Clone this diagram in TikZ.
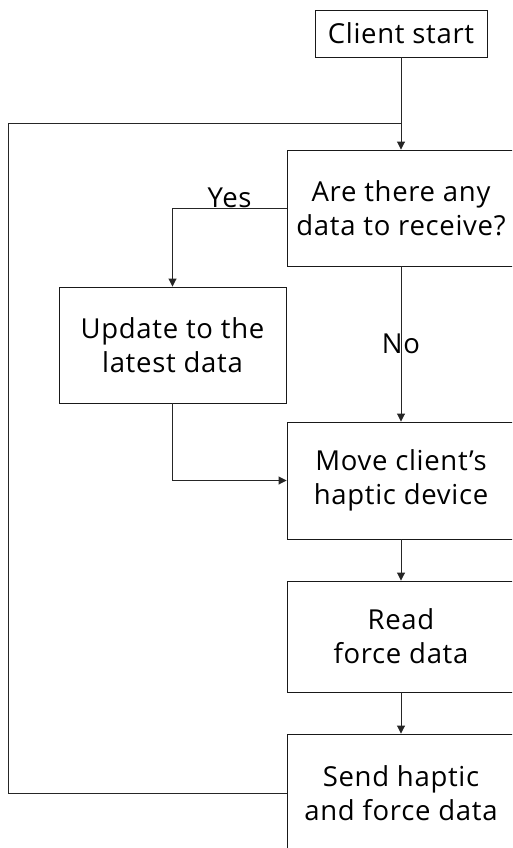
\documentclass[tikz,border=0pt]{standalone}
\usepackage{fontspec}
\setmainfont[LetterSpace=2.5]{Open Sans}
\usetikzlibrary{arrows.meta}
\begin{document}
\begin{tikzpicture}[x=1pt,y=-1pt,
  box/.style={draw=black!90, line width=0.9pt, align=center, inner sep=0pt,
    minimum width=228pt, font=\fontsize{27.5}{34}\selectfont},
  wire/.style={draw=black!85, line width=0.9pt},
  link/.style={wire, -{Triangle[length=8pt,width=8pt]}},
  lbl/.style={font=\fontsize{27.5}{30}\selectfont, inner sep=1pt}]
\useasboundingbox (0,0) rectangle (512,848);
\clip (0,0) rectangle (512,848);

% process steps
\node[box, minimum width=172pt, minimum height=47pt] (start) at (401,33.5) {Client start};
\node[box, minimum height=116pt] (ask) at (401,208) {Are there any\\data to receive?};
\node[box, minimum width=227pt, minimum height=116pt] (upd) at (172.5,345) {Update to the\\latest data};
\node[box, minimum height=117pt] (move) at (401,480.5) {Move client’s\\haptic device};
\node[box, minimum height=111pt] (read) at (401,636.5) {Read\\force data};
\node[box, minimum height=118pt] (send) at (401,793) {Send haptic\\and force data};

% junction of the start line and the loop back
\coordinate (merge) at (401,123);
\coordinate (corner) at (8,793);

\draw[wire] (start) -- (merge);
\draw[link] (merge) -- (ask);
\draw[link] (ask.west) -| node[lbl, pos=0.25, above, inner sep=0pt] {Yes} (upd.north);
\draw[link] (ask) -- node[lbl] {No} (move);
\draw[link] (upd.south) |- (move.west);
\draw[link] (move) -- (read);
\draw[link] (read) -- (send);
\draw[wire] (send.west) -- (corner) |- (merge);
\end{tikzpicture}
\end{document}
